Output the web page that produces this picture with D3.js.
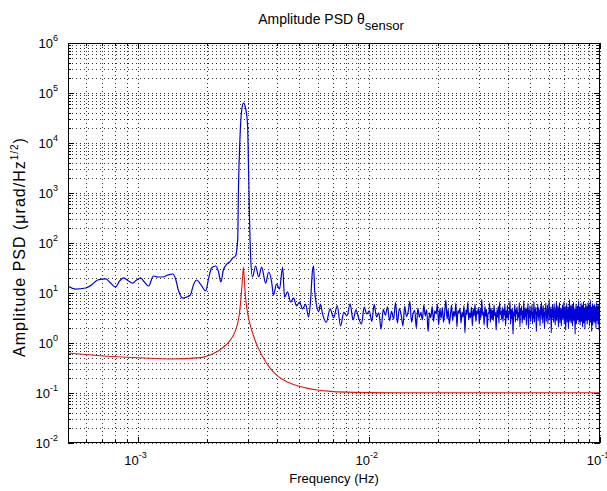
<!DOCTYPE html>
<html>
<head>
<meta charset="utf-8">
<script src="https://cdn.jsdelivr.net/npm/d3@7"></script>
<style>
  body { margin: 0; background: #fff; }
  text { font-family: "Liberation Sans", Arial, sans-serif; fill: #000; }
</style>
</head>
<body>
<div id="chart"></div>
<script>
// blue: measured PSD, low-frequency part (Hz, µrad/Hz^1/2)
const blueFreq = [
  5.0e-4, 5.39e-4, 5.96e-4, 6.39e-4, 6.71e-4, 7.28e-4, 7.64e-4, 8.03e-4, 8.36e-4, 8.70e-4,
  9.14e-4, 9.52e-4, 9.9e-4, 1.03e-3, 1.07e-3, 1.116e-3, 1.17e-3, 1.23e-3, 1.28e-3, 1.35e-3,
  1.42e-3, 1.46e-3, 1.50e-3, 1.57e-3, 1.63e-3, 1.69e-3, 1.75e-3, 1.80e-3, 1.87e-3, 1.97e-3,
  2.03e-3, 2.09e-3, 2.17e-3, 2.24e-3, 2.29e-3, 2.35e-3, 2.43e-3, 2.50e-3, 2.58e-3, 2.65e-3,
  2.71e-3, 2.73e-3, 2.77e-3, 2.82e-3, 2.87e-3, 2.93e-3, 2.99e-3, 3.02e-3, 3.05e-3, 3.08e-3,
  3.14e-3, 3.24e-3, 3.34e-3, 3.44e-3, 3.58e-3, 3.69e-3, 3.80e-3, 3.87e-3, 3.99e-3, 4.11e-3,
  4.24e-3, 4.32e-3, 4.45e-3, 4.59e-3, 4.73e-3, 4.87e-3, 5.02e-3, 5.17e-3, 5.33e-3, 5.49e-3,
  5.60e-3, 5.71e-3, 5.77e-3, 5.83e-3, 5.94e-3, 6.07e-3, 6.18e-3
];
const blueValue = [
  13.8, 12.0, 12.6, 15.1, 18.2, 19.1, 15.8, 13.2, 17.4, 20.0,
  17.4, 15.8, 18.2, 20.0, 16.6, 13.8, 21.9, 20.9, 20.9, 22.9,
  24.0, 19.1, 11.5, 7.9, 8.3, 9.1, 15.1, 18.2, 15.1, 11.0,
  20.0, 31.6, 34.7, 26.3, 16.6, 28.8, 38.0, 41.7, 50.0, 55.0,
  115, 1150, 11500, 45700, 63000, 50000, 22900, 2880, 288, 57.5,
  20.9, 34.7, 20.9, 33.0, 15.8, 26.3, 16.6, 9.1, 15.1, 12.0,
  33.0, 8.3, 10.5, 6.6, 7.9, 5.5, 6.6, 4.8, 6.0, 3.3,
  7.2, 28.8, 34.7, 11.5, 5.75, 4.2, 6.0
];

// blue: noise floor, sampled on the PSD's linear frequency bins
const noiseStart = 0.0063;
const noiseStep = 0.00025;
const noiseValue = [
  3.9, 2.6, 4.8, 3.2, 5.6, 2.2, 4.1, 3.5, 6.1, 2.9, 4.6, 3.1, 2.4, 5.2, 3.8, 4.4, 2.7, 5.9, 3.3, 4.0, 1.9, 4.7, 3.6, 5.3, 2.8,
  4.3, 3.0, 6.4, 2.5, 4.9, 3.7, 2.2, 5.5, 3.4, 4.2, 6.8, 2.6, 3.9, 4.5, 2.0, 5.0, 3.3, 4.1, 2.9, 5.8, 3.5, 4.6, 1.7, 4.0, 3.2,
  5.4, 2.7, 4.4, 3.8, 6.0, 2.3, 4.8, 3.1, 5.1, 2.6, 4.2, 7.1, 3.0, 4.7, 2.4, 3.6, 5.7, 2.8, 4.3, 3.4, 6.2, 2.1, 4.5, 3.9, 5.0,
  2.5, 4.1, 3.3, 5.6, 1.6, 4.6, 3.7, 6.5, 2.9, 4.0, 3.2, 5.3, 2.2, 4.8, 3.5, 6.0, 2.7, 4.4, 3.8, 5.1, 2.4, 4.9, 3.1, 7.4, 3.6,
  4.2, 2.3, 5.5, 3.4, 4.7, 2.0, 4.0, 3.9, 6.3, 2.6, 5.0, 3.0, 4.5, 2.8, 5.8, 3.5, 4.1, 1.8, 4.6, 3.3, 5.4, 2.5, 6.6, 3.7, 4.3,
  3.0, 5.2, 2.7, 4.8, 3.6, 6.1, 2.2, 4.4, 3.2, 5.7, 2.9, 4.0, 3.8, 6.9, 2.4, 4.7, 3.1, 5.0, 1.5, 4.2, 3.5, 5.9, 2.6, 4.6, 3.9,
  5.3, 2.8, 4.1, 3.3, 6.4, 2.1, 4.9, 3.7, 5.5, 2.5, 4.3, 3.0, 7.0, 2.9, 4.6, 3.4, 5.1, 2.3, 4.8, 3.8, 6.2, 2.0, 4.5, 3.2, 5.6,
  2.7, 4.4, 3.6, 5.8, 2.4, 4.0, 3.1, 6.7, 2.6, 4.7, 3.9, 5.2, 1.7, 4.2, 3.5, 6.0, 2.8, 5.0, 3.3, 4.5, 2.2, 5.4, 3.7, 6.5, 3.0,
  4.8, 2.5, 5.6, 3.4, 4.1, 2.0, 4.9, 3.6, 6.3, 2.7, 4.3, 3.2, 5.7, 2.4, 4.6, 3.9, 7.2, 2.9, 4.0, 3.5, 5.3, 1.6, 4.7, 3.1, 5.9,
  3.3, 4.5, 2.6, 6.1, 3.8, 4.2, 2.3, 5.1, 3.0, 6.8, 2.8, 4.4, 3.6, 5.5, 2.1, 4.9, 3.4, 6.4, 2.5, 4.1, 3.7, 5.0, 2.2, 4.6, 3.2,
  5.8, 2.9, 4.3, 3.5, 6.6, 2.4, 4.7, 3.1, 5.4, 1.8, 4.0, 3.9, 6.2, 2.6, 4.5, 3.3, 5.2, 2.0, 4.8, 3.6, 7.3, 2.7, 4.2, 3.0, 5.6,
  2.5, 4.6, 3.4, 5.9, 2.2, 4.1, 3.8, 6.5, 2.8, 5.0, 3.2, 4.4, 1.5, 4.9, 3.7, 6.0, 2.4, 4.3, 3.5, 5.5, 2.9, 4.7, 3.1, 6.9, 2.6,
  4.0, 3.6, 5.3, 2.3, 4.8, 3.0, 6.3, 2.7, 4.5, 3.9, 5.7, 2.1, 4.2, 3.4, 6.7, 2.5, 4.6, 3.2, 5.1, 1.9, 4.4, 3.8, 6.1, 2.8, 4.9,
  3.5, 5.4, 2.4, 4.1, 3.3, 6.4, 2.9, 4.7, 3.7, 5.8, 2.2, 4.3, 3.0, 7.1, 2.6, 4.0, 3.6, 5.2, 1.7, 4.8, 3.4, 6.2, 2.3, 4.5, 3.9,
  5.6, 2.7, 4.4, 3.1, 6.0, 2.5, 4.9, 3.5, 5.3, 2.0, 4.2, 3.8, 6.6, 2.8, 4.6, 3.2, 5.5, 2.4, 4.1, 3.7, 5.9, 1.8, 4.7, 3.3, 5.0
];

// red: model PSD
const redFreq = [
  5.0e-4, 7.13e-4, 1.06e-3, 1.39e-3, 1.87e-3, 2.0e-3, 2.13e-3, 2.25e-3, 2.33e-3, 2.45e-3,
  2.53e-3, 2.60e-3, 2.66e-3, 2.71e-3, 2.75e-3, 2.79e-3, 2.82e-3, 2.845e-3, 2.87e-3, 2.89e-3,
  2.91e-3, 2.94e-3, 2.98e-3, 3.03e-3, 3.10e-3, 3.18e-3, 3.26e-3, 3.36e-3, 3.50e-3, 3.66e-3,
  3.85e-3, 4.05e-3, 4.30e-3, 4.60e-3, 4.95e-3, 5.40e-3, 6.0e-3, 6.84e-3, 8.0e-3, 9.5e-3,
  1.37e-2, 0.1
];
const redValue = [
  0.63, 0.55, 0.50, 0.48, 0.51, 0.55, 0.62, 0.71, 0.80, 0.98,
  1.18, 1.45, 1.85, 2.5, 3.6, 6.5, 12, 21, 33, 21,
  12.5, 7.0, 4.4, 2.9, 1.95, 1.35, 0.98, 0.72, 0.50, 0.36,
  0.27, 0.215, 0.18, 0.155, 0.138, 0.125, 0.115, 0.108, 0.104, 0.102,
  0.101, 0.101
];

const xDomain = [5e-4, 0.1];
const yDomain = [1e-2, 1e6];
const xMajor = [1e-3, 1e-2, 1e-1];
const yMajor = [1e-2, 1e-1, 1e0, 1e1, 1e2, 1e3, 1e4, 1e5, 1e6];

const W = 607, H = 491;
const m = { left: 68, right: 7, top: 43, bottom: 48 };

const x = d3.scaleLog().domain(xDomain).range([m.left, W - m.right]);
const y = d3.scaleLog().domain(yDomain).range([H - m.bottom, m.top]);

const svg = d3.select("#chart").append("svg")
  .attr("width", W).attr("height", H);

svg.append("defs").append("clipPath").attr("id", "plot-clip")
  .append("rect")
  .attr("x", m.left).attr("y", m.top)
  .attr("width", W - m.left - m.right).attr("height", H - m.top - m.bottom);

// grid (major + minor, dotted)
const grid = svg.append("g").attr("stroke", "#000").attr("stroke-width", 1)
  .attr("stroke-dasharray", "1,3").attr("opacity", 0.8);
grid.selectAll(".gx").data(x.ticks()).join("line")
  .attr("x1", (d) => Math.round(x(d)) + 0.5).attr("x2", (d) => Math.round(x(d)) + 0.5)
  .attr("y1", m.top).attr("y2", H - m.bottom);
grid.selectAll(".gy").data(y.ticks()).join("line")
  .attr("x1", m.left).attr("x2", W - m.right)
  .attr("y1", (d) => Math.round(y(d)) + 0.5).attr("y2", (d) => Math.round(y(d)) + 0.5);

// series
const blueData = blueFreq.map((f, i) => [f, blueValue[i]])
  .concat(noiseValue.map((v, i) => [noiseStart + i * noiseStep, v]));
const redData = redFreq.map((f, i) => [f, redValue[i]]);

const line = d3.line().x((d) => x(d[0])).y((d) => y(d[1])).curve(d3.curveMonotoneX);
const plot = svg.append("g").attr("clip-path", "url(#plot-clip)");
plot.append("path").datum(redData).attr("d", line)
  .attr("fill", "none").attr("stroke", "#e01818").attr("stroke-width", 1.1);
plot.append("path").datum(blueData).attr("d", line)
  .attr("fill", "none").attr("stroke", "#0000d8").attr("stroke-width", 1.2);

// ticks on all four sides, pointing inward
const isMajor = (d) => Math.abs(Math.log10(d) - Math.round(Math.log10(d))) < 1e-9;
const tickLen = (d) => (isMajor(d) ? 6 : 3);
const ticks = svg.append("g").attr("stroke", "#000").attr("stroke-width", 1);
x.ticks().forEach((d) => {
  const px = Math.round(x(d)) + 0.5;
  ticks.append("line").attr("x1", px).attr("x2", px)
    .attr("y1", H - m.bottom).attr("y2", H - m.bottom - tickLen(d));
  ticks.append("line").attr("x1", px).attr("x2", px)
    .attr("y1", m.top).attr("y2", m.top + tickLen(d));
});
y.ticks().forEach((d) => {
  const py = Math.round(y(d)) + 0.5;
  ticks.append("line").attr("x1", m.left).attr("x2", m.left + tickLen(d))
    .attr("y1", py).attr("y2", py);
  ticks.append("line").attr("x1", W - m.right).attr("x2", W - m.right - tickLen(d))
    .attr("y1", py).attr("y2", py);
});

// frame
svg.append("rect")
  .attr("x", m.left + 0.5).attr("y", m.top + 0.5)
  .attr("width", W - m.left - m.right - 1).attr("height", H - m.top - m.bottom - 1)
  .attr("fill", "none").attr("stroke", "#000").attr("stroke-width", 1);

// tick labels as 10^n
function powerLabel(g, n, anchor) {
  const t = g.append("text").attr("text-anchor", anchor).style("font-size", "13px");
  t.append("tspan").text("10");
  t.append("tspan").attr("dy", -7).style("font-size", "9px").text(n);
  return t;
}
xMajor.forEach((d) => {
  const g = svg.append("g").attr("transform", `translate(${x(d) - 2},${H - m.bottom + 22})`);
  powerLabel(g, Math.round(Math.log10(d)), "middle");
});
yMajor.forEach((d) => {
  const g = svg.append("g").attr("transform", `translate(${m.left - 10},${y(d) + 5})`);
  powerLabel(g, Math.round(Math.log10(d)), "end");
});

// axis titles
svg.append("text").attr("x", (m.left + W - m.right) / 2).attr("y", 483)
  .attr("text-anchor", "middle").style("font-size", "13px").text("Frequency (Hz)");

const yl = svg.append("text")
  .attr("transform", `translate(25,${(m.top + H - m.bottom) / 2 + 4}) rotate(-90)`)
  .attr("text-anchor", "middle").style("font-size", "16px").style("letter-spacing", "1px");
yl.append("tspan").text("Amplitude PSD (\u03bcrad/Hz");
yl.append("tspan").attr("dy", -7).style("font-size", "10px").text("1/2");
yl.append("tspan").attr("dy", 7).text(")");

const title = svg.append("text").attr("x", 331).attr("y", 24)
  .attr("text-anchor", "middle").style("font-size", "14px");
title.append("tspan").text("Amplitude PSD \u03b8");
title.append("tspan").attr("dy", 6).style("font-size", "13px").text("sensor");
</script>
</body>
</html>
